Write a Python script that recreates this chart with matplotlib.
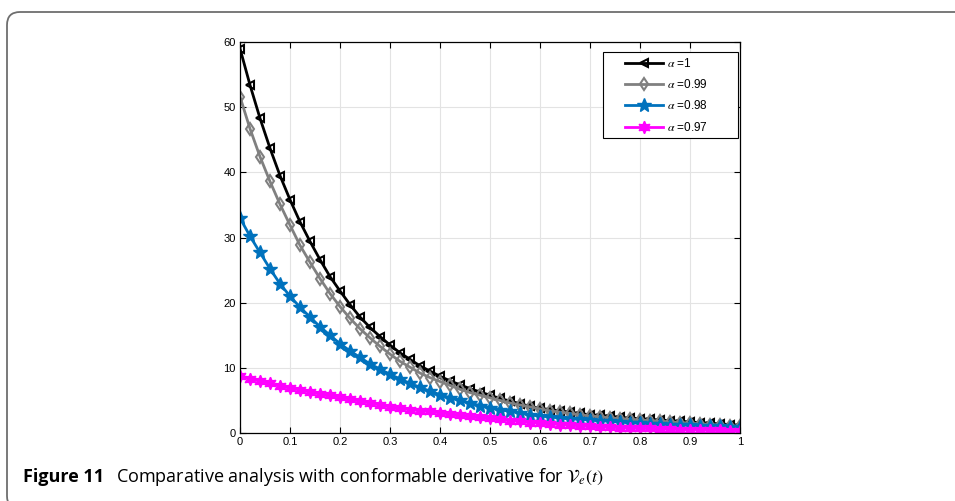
import matplotlib
matplotlib.use('Agg')
import matplotlib.pyplot as plt
from matplotlib.patches import FancyBboxPatch, Rectangle
import numpy as np

# sample times (0 to 1, step 0.02)
t = [round(0.02 * k, 2) for k in range(51)]

alpha_labels = ['1', '0.99', '0.98', '0.97']

v_a100 = [59.0, 53.4, 48.3, 43.7, 39.5, 35.8, 32.4, 29.4, 26.6, 24.0,
          21.8, 19.7, 17.8, 16.2, 14.8, 13.5, 12.3, 11.3, 10.3, 9.5,
          8.7, 8.0, 7.4, 6.8, 6.3, 5.8, 5.3, 4.9, 4.5, 4.1,
          3.8, 3.6, 3.4, 3.2, 3.0, 2.8, 2.7, 2.6, 2.4, 2.3,
          2.2, 2.1, 2.0, 1.9, 1.8, 1.7, 1.6, 1.5, 1.4, 1.3, 1.2]
v_a099 = [51.6, 46.7, 42.4, 38.6, 35.1, 31.9, 28.8, 26.2, 23.7, 21.4,
          19.4, 17.6, 16.0, 14.6, 13.3, 12.1, 11.0, 10.1, 9.2, 8.5,
          7.9, 7.3, 6.7, 6.2, 5.8, 5.4, 5.0, 4.6, 4.3, 4.0,
          3.7, 3.4, 3.2, 3.0, 2.8, 2.6, 2.5, 2.3, 2.2, 2.1,
          2.0, 1.9, 1.8, 1.7, 1.6, 1.5, 1.4, 1.3, 1.2, 1.1, 1.0]
v_a098 = [33.0, 30.2, 27.7, 25.2, 22.9, 21.0, 19.3, 17.8, 16.3, 15.0,
          13.7, 12.6, 11.6, 10.6, 9.8, 9.0, 8.3, 7.6, 7.0, 6.4,
          5.9, 5.4, 5.0, 4.6, 4.2, 3.9, 3.6, 3.3, 3.1, 2.8,
          2.6, 2.5, 2.3, 2.2, 2.1, 2.0, 1.9, 1.8, 1.7, 1.6,
          1.5, 1.4, 1.4, 1.3, 1.2, 1.2, 1.1, 1.0, 1.0, 0.9, 0.9]
v_a097 = [8.7, 8.3, 8.0, 7.6, 7.2, 6.9, 6.6, 6.3, 6.0, 5.8,
          5.5, 5.2, 4.9, 4.6, 4.3, 4.0, 3.8, 3.6, 3.4, 3.3,
          3.1, 2.9, 2.7, 2.6, 2.4, 2.3, 2.1, 1.9, 1.8, 1.6,
          1.5, 1.4, 1.3, 1.2, 1.1, 1.0, 0.9, 0.9, 0.8, 0.8,
          0.7, 0.7, 0.6, 0.6, 0.5, 0.5, 0.5, 0.4, 0.4, 0.3, 0.3]

plt.rcParams['font.family'] = ['Liberation Sans', 'DejaVu Sans']
plt.rcParams['mathtext.fontset'] = 'stix'

fig = plt.figure(figsize=(9.55, 5.01), dpi=100)

# rounded frame round the figure (inches, so the corner stays round)
frame = FancyBboxPatch((0.07, -0.08), 10.0, 4.97,
                       boxstyle='round,pad=0,rounding_size=0.13',
                       transform=fig.dpi_scale_trans, fill=False,
                       edgecolor='#6e6e6e', linewidth=1.3)
fig.add_artist(frame)

ax = fig.add_axes([240 / 955, 68 / 501, 500 / 955, 391 / 501])

ax.plot(t, v_a100, color='black', lw=2, marker='<', ms=6, mfc='none',
        mew=1.5, label=r'$\alpha$ =' + alpha_labels[0])
ax.plot(t, v_a099, color='#808080', lw=2, marker='d', ms=6, mfc='none',
        mew=1.5, label=r'$\alpha$ =' + alpha_labels[1])
ax.plot(t, v_a098, color='#0072BD', lw=2, marker='*', ms=10,
        label=r'$\alpha$ =' + alpha_labels[2])
ax.plot(t, v_a097, color='#FF00FF', lw=2, marker=(6, 1, 0), ms=9,
        label=r'$\alpha$ =' + alpha_labels[3])

ax.set_xlim(0, 1)
ax.set_ylim(0, 60)
ax.set_xticks(np.arange(0, 1.01, 0.1))
ax.set_xticklabels(['0', '0.1', '0.2', '0.3', '0.4', '0.5', '0.6', '0.7', '0.8', '0.9', '1'])
ax.set_yticks(np.arange(0, 61, 10))
ax.grid(True, color='#e3e3e3', lw=0.8)
ax.set_axisbelow(True)
ax.tick_params(direction='in', top=True, right=True, labelsize=8, length=4,
               width=0.8, pad=3)
for s in ax.spines.values():
    s.set_linewidth(0.9)

# MATLAB-like legend: wide box drawn by hand, entries placed inside
ax.add_patch(Rectangle((0.726, 0.7545), 0.27, 0.22, transform=ax.transAxes,
                       facecolor='white', edgecolor='black', lw=0.8, zorder=4))
leg = ax.legend(loc='upper left', bbox_to_anchor=(0.77, 0.962), fontsize=8.5,
                handlelength=3.2, labelspacing=0.7, borderpad=0,
                handletextpad=0.35, borderaxespad=0, frameon=False)
leg.set_zorder(5)

# caption: bold label, then the text on the same baseline
cap_font = ['Open Sans', 'DejaVu Sans']
cap_y = 1 - 482 / 501
t1 = fig.text(23 / 955, cap_y, 'Figure 11', fontsize=13, fontweight='bold',
              family=cap_font, va='baseline')
bb = t1.get_window_extent(fig.canvas.get_renderer())
fig.text(bb.x1 / 955 + 12 / 955, cap_y,
         r'Comparative analysis with conformable derivative for $\mathcal{V}_e(t)$',
         fontsize=13, family=cap_font, va='baseline')

fig.savefig('out.png', dpi=100)
